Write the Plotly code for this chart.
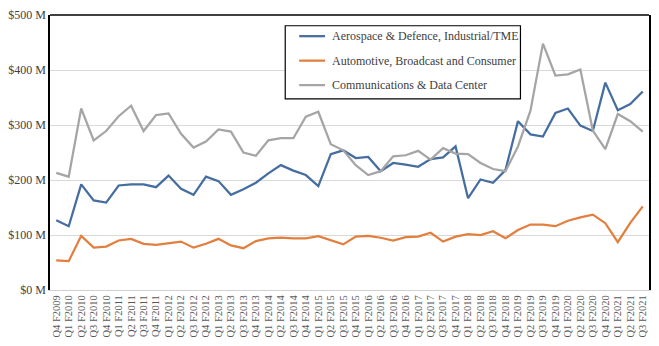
import plotly.graph_objects as go

quarters = ["Q4 F2009"]
for y in range(2010, 2022):
    for q in range(1, 5):
        if y == 2021 and q == 4:
            break
        quarters.append(f"Q{q} F{y}")

aerospace = [127, 116, 192, 163, 159, 190, 192, 192, 187, 208, 184, 173, 206, 198, 173, 183,
             195, 212, 227, 217, 209, 189, 247, 254, 240, 242, 216, 231, 228, 224, 238, 241,
             261, 167, 201, 195, 218, 307, 283, 279, 322, 330, 299, 289, 377, 327, 338, 361]
automotive = [54, 52.5, 98.5, 77, 79, 90, 93, 84, 82, 85, 88, 77, 84, 93, 81, 76,
              89, 94, 95, 94, 94, 98, 91, 83, 97, 98.5, 95, 90, 96, 97, 104, 88,
              97, 101.5, 100, 107, 94, 109, 119, 119, 116, 126, 132, 137, 121.5, 87, 122, 152]
communications = [213, 206, 330, 272, 289, 316, 335, 289, 318, 321, 284, 259, 270, 292, 288, 250,
                  244, 272, 276, 276, 315, 324, 265, 254, 227, 209, 216, 243, 245, 253, 237, 258,
                  248, 247, 231, 220, 216, 261, 326, 448, 390, 392, 401, 290, 256, 320, 307, 288]

series_names = ["Aerospace & Defence, Industrial/TME",
                "Automotive, Broadcast and Consumer",
                "Communications & Data Center"]
series_values = [aerospace, automotive, communications]
series_colors = ["#466d9f", "#e37f3e", "#a5a5a5"]

tick_vals = [0, 100, 200, 300, 400, 500]
tick_text = [f"${v} M" for v in tick_vals]

FONT = "Liberation Serif, Times New Roman, serif"

fig = go.Figure()
for name, vals, color in zip(series_names, series_values, series_colors):
    fig.add_trace(go.Scatter(
        x=quarters, y=vals, name=name, mode="lines",
        line=dict(color=color, width=2.25),
    ))

# Boxed legend inside the plot area
shapes = [
    dict(type="line", xref="paper", yref="paper", x0=0, x1=1, y0=1, y1=1,
         line=dict(color="black", width=1.5)),
    dict(type="rect", xref="paper", yref="paper", x0=0.3927, x1=0.7854, y0=0.6950, y1=0.9610,
         fillcolor="white", line=dict(color="black", width=1.2), layer="above"),
]
annotations = []
row_y = [0.9230, 0.8340, 0.7450]
for name, color, ry in zip(series_names, series_colors, row_y):
    shapes.append(dict(type="line", xref="paper", yref="paper", x0=0.4160, x1=0.4592,
                       y0=ry, y1=ry, line=dict(color=color, width=2.25), layer="above"))
    annotations.append(dict(xref="paper", yref="paper", x=0.4676, y=ry, text=name,
                            showarrow=False, xanchor="left", yanchor="middle",
                            font=dict(family=FONT, size=12, color="#404040")))

fig.update_layout(
    width=659, height=346,
    margin=dict(l=50, r=8, t=10, b=54),
    paper_bgcolor="white", plot_bgcolor="white",
    font=dict(family=FONT, color="#404040"),
    showlegend=False,
    xaxis=dict(
        type="category", tickangle=-90, tickfont=dict(family=FONT, size=10.5, color="#595959"),
        tickmode="array", tickvals=quarters, ticktext=quarters,
        showgrid=False, showline=True, linecolor="#d0d0d0", linewidth=1,
        ticks="", range=[-0.5, len(quarters) - 0.5], fixedrange=True,
    ),
    yaxis=dict(
        range=[0, 500], tickvals=tick_vals, ticktext=tick_text,
        tickfont=dict(family=FONT, size=12, color="#404040"),
        showgrid=True, gridcolor="#d9d9d9", gridwidth=1,
        showline=True, linecolor="black", linewidth=1.5, mirror=True,
        zeroline=False, ticks="", ticklen=0,
    ),
    shapes=shapes,
    annotations=annotations,
)

fig.write_html("out.html")
